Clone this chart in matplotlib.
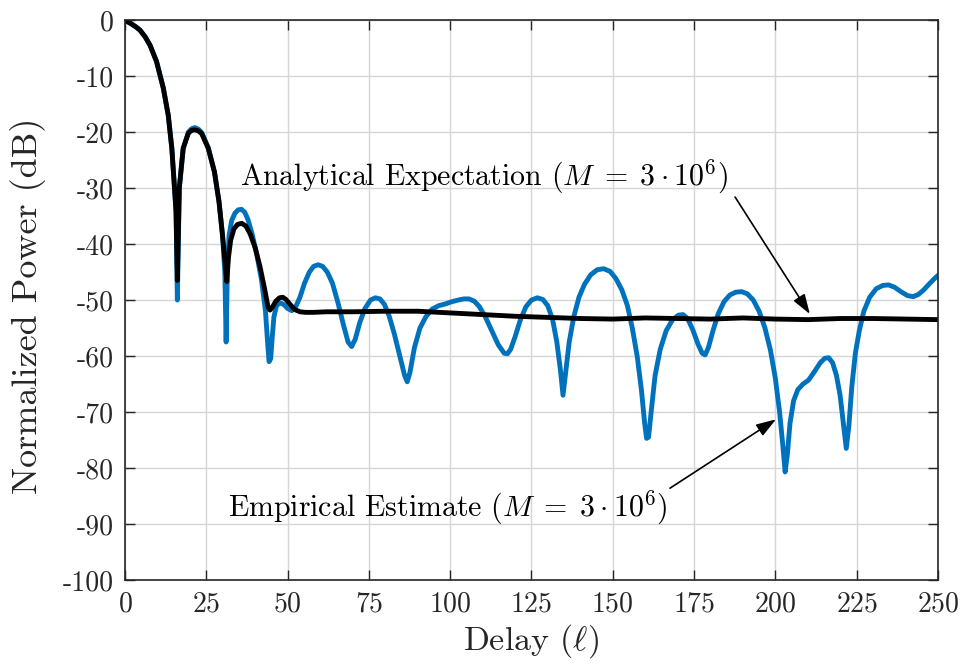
import numpy as np
import matplotlib
matplotlib.use('Agg')
import matplotlib.pyplot as plt

plt.rcParams['font.family'] = 'serif'
plt.rcParams['font.serif'] = ['cmr10']
plt.rcParams['mathtext.fontset'] = 'cm'
plt.rcParams['axes.unicode_minus'] = False
plt.rcParams['axes.formatter.use_mathtext'] = True

# empirical autocorrelation estimate (dB), ten values per line
emp_lag = [0, 0.5, 2, 3.3, 4.6, 6.2, 7.7, 9.7, 11.8, 13.3,
           14.4, 15.1, 15.7, 16.1, 16.7, 17.9, 19.5, 20.5, 21.5, 22.6,
           23.6, 25.6, 27.5, 28.9, 30.0, 30.7, 31.1, 31.5, 32.0, 32.8,
           33.8, 34.8, 35.8, 36.8, 37.8, 39.0, 40.5, 42.0, 43.2, 43.9,
           44.3, 44.8, 45.3, 45.8, 46.6, 47.7, 48.8, 50.0, 51.3, 52.5,
           53.8, 55.2, 56.7, 58.0, 59.4, 60.8, 62.2, 63.8, 65.5, 67.2,
           68.6, 69.7, 70.8, 72.2, 73.8, 75.5, 77.0, 78.4, 79.8, 81.2,
           82.8, 84.5, 86.0, 86.8, 87.6, 89.0, 90.7, 92.5, 94.5, 96.5,
           98.5, 100.5, 102.5, 104.2, 105.8, 107.4, 109.0, 110.8, 112.8, 114.8,
           116.6, 117.6, 118.6, 120.0, 121.6, 123.3, 125.0, 126.8, 128.5, 130.0,
           131.5, 132.8, 133.9, 134.7, 135.5, 136.6, 138.0, 139.6, 141.3, 143.2,
           145.2, 147.2, 149.2, 151.0, 152.8, 154.5, 156.0, 157.5, 158.8, 159.8,
           160.4, 161.0, 161.8, 163.0, 164.6, 166.4, 168.4, 170.2, 171.6, 173.0,
           174.6, 176.3, 177.5, 178.4, 179.4, 180.8, 182.4, 184.2, 186.0, 187.8,
           189.6, 191.4, 193.2, 195.0, 196.8, 198.5, 200.0, 201.3, 202.3, 203.0,
           203.7, 204.5, 205.6, 206.9, 208.5, 210.2, 212.0, 213.8, 215.2, 216.4,
           217.6, 218.8, 219.9, 220.9, 221.8, 222.6, 223.5, 224.6, 225.8, 227.2,
           229.0, 231.0, 233.0, 234.8, 236.6, 238.6, 240.6, 242.4, 244.0, 245.6,
           247.2, 248.7, 250.0]
emp_db = [0, -0.2, -0.7, -1.2, -1.8, -3.0, -4.5, -7.4, -12.2, -17.0,
          -22.9, -28.9, -34.2, -50.0, -30.0, -22.9, -20.0, -19.4, -19.2, -19.5,
          -20.1, -22.8, -27.1, -32.4, -38.5, -45.0, -57.5, -44.0, -38.5, -35.8,
          -34.5, -33.9, -33.8, -34.3, -35.6, -38.0, -41.8, -46.5, -52.0, -58.0,
          -61.0, -60.5, -56.5, -53.0, -51.0, -50.5, -50.8, -51.5, -51.9, -51.2,
          -49.5, -47.0, -45.0, -44.0, -43.7, -44.0, -45.0, -47.0, -50.5, -54.5,
          -57.5, -58.3, -57.0, -54.0, -51.5, -50.0, -49.6, -49.8, -50.8, -52.8,
          -56.0, -60.0, -63.5, -64.6, -63.0, -58.5, -55.0, -53.0, -51.6, -51.0,
          -50.7, -50.3, -50.0, -49.8, -49.8, -50.2, -51.2, -53.0, -55.5, -58.0,
          -59.5, -59.6, -58.8, -56.5, -53.5, -51.2, -50.0, -49.6, -49.9, -51.0,
          -53.5, -57.5, -62.5, -67.0, -63.0, -57.5, -53.0, -49.5, -47.2, -45.5,
          -44.6, -44.4, -44.9, -46.2, -48.2, -51.0, -55.0, -60.0, -66.0, -72.0,
          -74.7, -74.5, -70.0, -63.5, -58.8, -55.5, -53.5, -52.7, -52.6, -53.3,
          -55.3, -58.0, -59.5, -59.8, -58.5, -55.5, -52.5, -50.3, -49.1, -48.6,
          -48.5, -48.9, -50.0, -52.0, -55.0, -59.0, -64.0, -70.0, -76.0, -80.7,
          -77.5, -72.0, -68.0, -66.0, -65.0, -64.3, -62.8, -61.2, -60.4, -60.3,
          -61.2, -63.5, -67.0, -72.0, -76.5, -72.5, -65.5, -59.5, -55.5, -52.0,
          -49.5, -48.0, -47.4, -47.3, -47.7, -48.5, -49.2, -49.4, -49.0, -48.2,
          -47.2, -46.3, -45.6]

# analytical expectation (dB), ten values per line
ana_lag = [0, 0.5, 2, 3.3, 4.6, 6.2, 7.7, 9.7, 11.8, 13.3,
           14.4, 15.1, 15.7, 16.1, 16.7, 17.9, 19.5, 20.5, 21.5, 22.6,
           23.6, 25.6, 27.5, 28.9, 30.0, 30.8, 31.3, 31.8, 32.5, 33.5,
           34.6, 35.9, 37.2, 38.5, 40.0, 41.5, 43.0, 44.0, 44.6, 45.4,
           46.4, 47.5, 48.5, 49.5, 50.8, 52.2, 53.8, 55.5, 58, 62,
           70, 80, 90, 100, 110, 120, 130, 140, 150, 160,
           170, 180, 190, 200, 210, 220, 230, 240, 250]
ana_db = [0, -0.2, -0.7, -1.2, -1.8, -3.0, -4.5, -7.4, -12.2, -17.0,
          -22.9, -28.9, -34.2, -46.5, -30.0, -22.9, -20.2, -19.7, -19.6, -19.8,
          -20.3, -22.9, -27.1, -32.4, -38.5, -43.5, -46.7, -42.5, -39.3, -37.3,
          -36.5, -36.3, -36.8, -38.2, -40.6, -44.0, -48.2, -51.3, -51.8, -51.2,
          -50.2, -49.6, -49.5, -49.9, -50.8, -51.7, -52.1, -52.2, -52.2, -52.1,
          -52.1, -52.0, -52.0, -52.3, -52.6, -52.9, -53.1, -53.3, -53.4, -53.2,
          -53.3, -53.4, -53.2, -53.4, -53.5, -53.3, -53.3, -53.4, -53.5]

x_ticks = [0, 25, 50, 75, 100, 125, 150, 175, 200, 225, 250]
y_ticks = [0, -10, -20, -30, -40, -50, -60, -70, -80, -90, -100]

fig = plt.figure(figsize=(9.63, 6.68), dpi=100)
ax = fig.add_axes([0.1298, 0.1317, 0.8442, 0.8383])

ax.plot(emp_lag, emp_db, color='#0072BD', lw=3.5, solid_joinstyle='round',
        solid_capstyle='round')
ax.plot(ana_lag, ana_db, color='black', lw=3.5, solid_joinstyle='round',
        solid_capstyle='round')

ax.set_xlim(0, 250)
ax.set_ylim(-100, 0)
ax.set_xticks(x_ticks)
ax.set_yticks(y_ticks)
ax.set_yticklabels([str(v) for v in y_ticks])
ax.grid(True, color='#d6d6d6', lw=1)
ax.set_axisbelow(True)
ax.tick_params(direction='in', top=True, right=True, length=7, width=1,
               labelsize=20, color='#262626', labelcolor='#262626', pad=8)
for s in ax.spines.values():
    s.set_color('#262626')
    s.set_linewidth(1.2)

ax.set_xlabel(r'Delay ($\ell$)', fontsize=24.5, color='#262626', labelpad=3)
ax.set_ylabel('Normalized Power (dB)', fontsize=26, color='#262626')
ax.yaxis.set_label_coords(-0.097, 0.49)

arrow = dict(arrowstyle='-|>,head_length=1.2,head_width=0.4', color='black',
             lw=1.2, shrinkA=0, shrinkB=0)
ax.annotate('', xy=(210.6, -52.5), xytext=(187.6, -31.6), arrowprops=arrow)
ax.annotate('', xy=(200.2, -71.3), xytext=(167.6, -83.6), arrowprops=arrow)
ax.text(35.4, -28, r'Analytical Expectation ($M \;=\; 3 \cdot 10^6$)', fontsize=21.5,
        va='center', ha='left')
ax.text(31.7, -87.1, r'Empirical Estimate ($M \;=\; 3 \cdot 10^6$)', fontsize=21.5,
        va='center', ha='left')

fig.savefig('out.png', dpi=100)
